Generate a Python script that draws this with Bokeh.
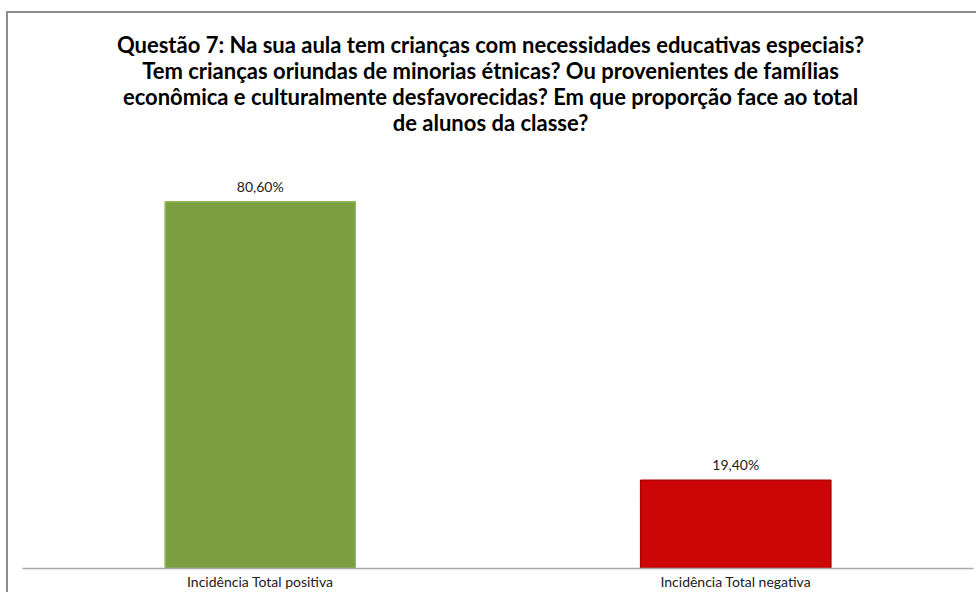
from bokeh.plotting import figure
from bokeh.models import Label, ColumnDataSource, Range1d, FactorRange
from bokeh.embed import file_html
from bokeh.resources import INLINE

categories = ["Incidência Total positiva", "Incidência Total negativa"]
values = [80.6, 19.4]
value_labels = ["80,60%", "19,40%"]
colors = ["#7A9E40", "#CC0606"]
line_colors = ["#93B85A", "#B00000"]
title_lines = [
    "Questão 7: Na sua aula tem crianças com necessidades educativas especiais?",
    "Tem crianças oriundas de minorias étnicas? Ou provenientes de famílias",
    "econômica e culturalmente desfavorecidas? Em que proporção face ao total",
    "de alunos da classe?",
]

FONT = "Lato"

src = ColumnDataSource(dict(cat=categories, val=values, lab=value_labels,
                            fill=colors, line=line_colors))

p = figure(width=976, height=592, output_backend="svg", toolbar_location=None,
           x_range=FactorRange(*categories, range_padding=0),
           y_range=Range1d(0, 124.8))
p.min_border_left = 22
p.min_border_right = 3
p.min_border_top = 0
p.min_border_bottom = 0
p.outline_line_color = None
p.xgrid.grid_line_color = None
p.ygrid.grid_line_color = None
p.yaxis.visible = False
p.background_fill_color = None
p.border_fill_color = None
# outer chart border (left and top edges visible in the reference)
p.styles = {
    "background": ("linear-gradient(#8c8c8c,#8c8c8c) 6px 11px / 2px 700px no-repeat, "
                   "linear-gradient(#8c8c8c,#8c8c8c) 6px 11px / 1200px 2px no-repeat, "
                   "white"),
}

p.vbar(x="cat", top="val", width=0.4, source=src, fill_color="fill",
       line_color="line", line_width=1.5)

p.text(x="cat", y="val", text="lab", source=src, text_align="center",
       text_baseline="bottom", y_offset=-7, text_font_size="14px",
       text_color="#202020", text_font={"value": FONT})

ax = p.xaxis[0]
ax.axis_line_color = "#a6a6a6"
ax.axis_line_width = 1.5
ax.major_tick_line_color = None
ax.minor_tick_line_color = None
ax.major_tick_out = 0
ax.major_tick_in = 0
ax.major_label_standoff = 4
ax.major_label_text_font = FONT
ax.major_label_text_font_size = "14px"
ax.major_label_text_color = "#202020"

baselines = [46, 72, 98, 124]
for line, b in zip(title_lines, baselines):
    p.add_layout(Label(x=468, y=570 - b, x_units="screen", y_units="screen",
                       text=line, text_align="center", text_baseline="alphabetic",
                       text_font=FONT, text_font_style="bold",
                       text_font_size="22px", text_color="black"))

open("out.html", "w").write(file_html(p, INLINE))
